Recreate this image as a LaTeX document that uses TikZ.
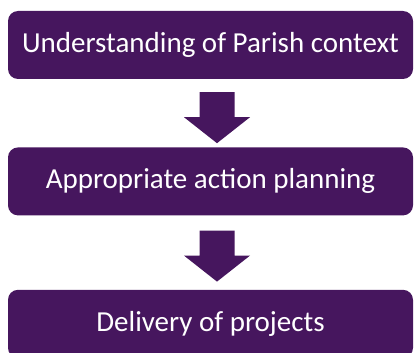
\documentclass[tikz,border=0pt]{standalone}
\usepackage{fontspec}
\setmainfont{Carlito}
\usepackage{tikz}
\usepackage{xcolor}
\usetikzlibrary{positioning,calc}
\definecolor{parishpurple}{RGB}{70,22,94}

\begin{document}
\begin{tikzpicture}[
            x=1pt, y=1pt,
            stage/.style={rectangle, fill=parishpurple, rounded corners=10pt,
                        minimum height=68pt, minimum width=405pt, align=center,
                        text=white, font=\fontsize{29}{35}\selectfont},
            blockarrow/.style={fill=parishpurple}
        ]
            \useasboundingbox (0,0) rectangle (415,-353);

            % Stages
            \node[stage] (b1) at (210.5,-45) {Understanding of Parish context};
            \node[stage, below=68pt of b1] (b2) {Appropriate action planning};
            \node[stage, below=74pt of b2] (b3) {Delivery of projects};

            % Block arrows
            \fill[blockarrow] ($(b1.south)+(-11,-13)$) -- ++(35,0) -- ++(0,-25) -- ++(15.5,0)
                -- ++(-33,-26) -- ++(-33,26) -- ++(15.5,0) -- cycle;
            \fill[blockarrow] ($(b2.south)+(-11,-15)$) -- ++(35,0) -- ++(0,-25) -- ++(15.5,0)
                -- ++(-33,-26) -- ++(-33,26) -- ++(15.5,0) -- cycle;
        \end{tikzpicture}
\end{document}
